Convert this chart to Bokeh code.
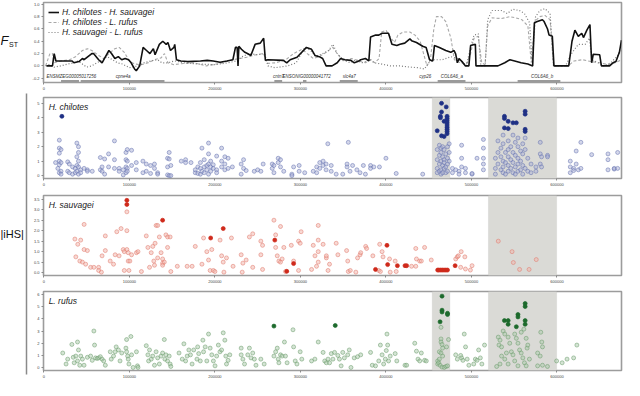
from bokeh.plotting import figure
from bokeh.layouts import row, column
from bokeh.models import (Range1d, FixedTicker, PrintfTickFormatter, NumeralTickFormatter,
                          BoxAnnotation, Legend, LegendItem)
from bokeh.embed import file_html
from bokeh.resources import INLINE
from bokeh.core.properties import value

FONT = "Liberation Sans"

# ---------------- FST data (position kb, FST) ----------------
fst_chil_sauv = [(3,0.0),(10,0.0),(12,0.2),(14,0.08),(33,0.08),(35,0.05),(41,0.07),(45,0.12),(47,0.1),(56,0.2),(58,0.2),(64,0.1),(68,0.05),(72,0.15),(76,0.25),(79,0.2),(83,0.12),(87,0.15),(91,0.1),(95,0.12),(99,0.1),(102,0.05),(106,-0.05),(108,-0.08),(112,0.0),(116,0.3),(120,0.25),(124,0.2),(128,0.28),(130,0.18),(135,0.35),(139,0.4),(143,0.35),(145,0.38),(148,0.25),(152,0.3),(153,0.35),(155,0.1),(160,0.08),(168,0.07),(183,0.08),(191,0.09),(198,0.08),(206,0.06),(214,0.08),(221,0.1),(224,0.3),(226,0.3),(227,0.0),(228,0.32),(231,0.27),(235,0.22),(238,0.2),(242,0.17),(247,0.35),(253,0.37),(257,0.45),(259,0.09),(262,0.1),(280,0.09),(284,0.05),(288,0.1),(296,0.14),(307,0.3),(313,0.27),(317,0.17),(322,0.15),(326,0.12),(330,0.0),(337,0.0),(343,0.05),(347,0.12),(352,0.1),(359,0.09),(363,0.05),(367,0.07),(370.5,0.1),(376,0.12),(380,0.08),(382,0.47),(388,0.5),(391.6,0.5),(395.5,0.53),(403,0.53),(407,0.35),(412.7,0.33),(416.5,0.35),(422,0.37),(428,0.44),(430,0.41),(435.7,0.38),(443,0.32),(447,0.3),(451,0.1),(454.8,0.08),(456.7,0.33),(462.5,0.3),(470,0.25),(475.8,0.22),(479.7,0.25),(481.6,0.19),(483.5,0.05),(485.5,0.12),(489,0.07),(493,0.0),(497,0.0),(499,0.33),(504.6,0.35),(505.3,0.0),(531,0.0),(539,0.05),(545,0.1),(550.6,0.08),(558,0.05),(566,0.03),(571.6,0.0),(573.6,0.7),(577,0.72),(583,0.75),(585,0.72),(589,0.6),(590.8,0.5),(594.6,0.48),(596.5,0.0),(613.8,0.0),(617.6,0.4),(621,0.58),(625,0.48),(629,0.53),(631,0.46),(635,0.58),(638.6,0.67),(640.6,0.05),(642.5,0.19),(650,0.18),(652,0.0),(661.6,0.0),(665.5,0.05),(669,0.07),(673,0.22),(675.5,0.42)]

fst_chil_rufus = [(2,0.0),(7,0.2),(10,0.2),(12,0.05),(20,0.08),(30,0.1),(37,0.15),(45,0.25),(51,0.28),(56,0.25),(64,0.17),(70,0.12),(76,0.2),(83,0.28),(88,0.3),(94,0.22),(100,0.08),(106,0.03),(114,0.02),(122,0.05),(129,0.1),(137,0.13),(141,0.2),(145,0.05),(152,0.02),(164,0.04),(175,0.05),(190,0.0),(206,0.04),(213,0.07),(221,0.1),(229,0.12),(237,0.14),(248,0.18),(257,0.2),(261,0.04),(271,0.05),(283,0.1),(292,0.2),(302,0.27),(308,0.2),(315,0.12),(322,0.15),(330,0.22),(338,0.3),(343,0.2),(350,0.08),(360,0.12),(368,0.08),(376,0.05),(382,0.1),(387,0.05),(392,0.12),(395,0.55),(400,0.58),(406,0.45),(410,0.38),(414,0.5),(420,0.55),(428,0.55),(434,0.5),(440,0.4),(444,0.2),(448,0.0),(452,0.1),(456,0.6),(459,0.8),(465,0.8),(470,0.72),(476,0.45),(480,0.1),(487,0.05),(494,0.02),(499,0.2),(503,0.45),(508,0.48),(512,0.05),(516,0.02),(519,0.65),(524,0.78),(535,0.77),(545,0.8),(552,0.78),(559,0.75),(566,0.65),(570,0.05),(574,0.72),(580,0.8),(586,0.82),(592,0.75),(596,0.0),(613,0.0),(620,0.08),(630,0.1),(640,0.07),(650,0.05),(660,0.02),(668,0.05),(675.5,0.1)]

fst_sauv_rufus = [(2,0.0),(6,0.02),(12,-0.02),(20,0.0),(28,0.03),(35,0.05),(40,0.08),(46,0.02),(50,-0.02),(56,0.0),(62,0.05),(68,0.1),(74,0.15),(80,0.1),(86,0.05),(92,0.03),(100,-0.03),(110,0.0),(117,0.05),(125,0.08),(133,0.1),(138,0.05),(145,0.05),(153,0.08),(164,0.05),(180,0.03),(200,0.02),(215,0.05),(225,0.08),(232,0.15),(240,0.2),(250,0.18),(258,0.2),(262,0.0),(270,-0.03),(285,0.0),(295,0.05),(305,0.3),(312,0.25),(318,0.15),(326,0.2),(333,0.25),(338,0.35),(343,0.2),(350,0.1),(358,0.05),(365,0.1),(372,0.05),(378,0.08),(382,0.1),(386,0.05),(395,0.03),(405,0.0),(416,0.0),(428,-0.02),(438,-0.03),(445,-0.05),(450,0.05),(456,0.1),(466,0.1),(476,0.15),(484,0.12),(490,0.05),(494,0.0),(499,0.3),(503,0.5),(508,0.52),(511,0.0),(516,0.0),(519,0.75),(524,0.9),(535,0.9),(542,0.85),(548,0.92),(556,0.9),(562,0.85),(568,0.7),(571,0.05),(575,0.8),(580,0.9),(586,0.93),(592,0.85),(596,0.0),(610,0.0),(617,0.2),(625,0.35),(633,0.35),(638,0.45),(641,0.1),(648,0.05),(655,0.0),(663,0.05),(670,0.15),(675.5,0.25)]

fst_series_labels = ["H. chilotes - H. sauvagei", "H. chilotes - L. rufus", "H. sauvagei - L. rufus"]

# genes
gene_names = ["ENSMZEG00005017256", "cpne4a", "cntn7", "ENSONIG00000041772", "slc4a7", "cyp26", "COL6A6_a", "COL6A6_b"]
gene_label_kb = [3, 84, 268, 279, 349.5, 439, 464, 569.7]
gene_bar_start_kb = [20, 43, 269.5, 303, 346, 460.5, 554]
gene_bar_end_kb = [41, 141, 278.6, 307, 367, 493, 604]

# highlighted regions (kb)
regions_chilotes = [(454.2, 474.7), (519.9, 599.6)]
regions_sauvagei = [(519.9, 599.6)]
regions_rufus = [(454.2, 474.7), (519.9, 599.6)]

# ---------------- |iHS| data: (position kb, values...) ----------------
chilotes_light = [(13.6,0.9),(16.3,0.5),(18,2.45,1.9,1.55,1.0,0.75,0.2),(20,1.8,0.9,0.3,0.1),(27.8,0.95,0.3),(29.7,0.8,0.2),(33.5,0.6,0.1),(36.6,0.5,0.2),(38.5,2.25,1.3,0.7,0.3),(40.4,2.0,1.6,1.0,0.6,0.1),(43,0.4,0.2),(47,0.5),(50.8,0.4,0.3),(56.5,0.3),(66,1.25,0.4),(68,0.6,0.3),(71,1.15,0.1),(75.6,1.5,0.6),(82.5,2.4,1.1,0.5),(88,0.5,0.3),(92.8,0.4,0.05),(96,1.6,1.1,0.6,0.2),(97.5,1.8,1.0,0.5,0.3),(102.5,1.75,0.7),(108,0.9,0.4),(115.8,1.0,0.2),(119.7,0.8,0.3),(124.7,0.7,0.15),(129.3,0.8,0.5),(133,0.2,0.1),(144.6,1.2,0.6,0.05),(146.5,1.6,1.15,0.0),(148.4,0.7,0.0),(160.6,1.0),(165.7,1.1,0.9),(172,0.9),(177,0.2,0.4),(180,0.6,0.15),(183,0.9,0.5,0.1),(184.8,1.9,0.3),(187.5,1.1,0.6,0.2),(190.5,0.7,0.4),(192.5,2.25,1.5,0.8,0.1),(195,1.0,0.6,0.3),(198,0.75,0.5),(202,1.35,0.4,0.2),(207.8,1.9,1.0,0.6),(211.6,1.3,0.8,0.4),(215.4,1.2,0.5),(220.4,0.6),(230.7,0.8,0.1),(233.5,1.1,0.5),(236.5,0.35),(246,0.3),(250,0.4),(253.7,0.3),(256.4,0.8),(267,0.8,0.5),(269,0.7,0.2),(274,1.2,0.9),(276.7,1.1,0.6),(280.5,0.3),(290,0.1,0.0),(292,0.6),(298.5,0.7,0.3),(305,0.2),(315,0.3),(319,0.6,0.2),(322.6,0.9,0.5),(326.5,0.7,1.0),(330,0.8,0.4),(332,2.2),(336,0.7,0.3),(341.8,0.1),(349.5,0.1),(354.5,0.6,0.8),(356,2.3),(358,0.3),(361,0.7),(366,0.4),(369.7,0.2),(373.6,0.7),(376,0.1),(382,0.7,0.5),(385.8,0.6),(392.4,0.6),(400,1.2),(412,0.15),(443,0.1),(460,1.8,1.1,0.5,0.2),(462.5,2.1,1.4,0.8,0.3),(464.4,1.9,1.6,1.0,0.4,0.1),(466.3,2.0,1.3,0.7,0.2),(468,1.8,1.1,0.9,0.5),(470,1.5,0.6,0.2),(472,2.0,1.2,0.8,0.3),(474,2.2,1.6,1.0),(477.8,0.5,0.2),(481.6,0.4),(485.5,0.3,0.1),(488.5,2.1,1.2,0.6),(493,0.2,0.5),(500.7,0.1,0.15),(506.5,1.2),(514,2.5,1.9,1.2,0.8,0.4),(528,1.2,0.5,0.1),(531,2.4,1.6,0.8),(534.5,1.9,1.3,0.4),(537,2.8,2.2,1.0,0.6,0.2),(539.8,1.6,0.9,0.1),(543,2.4,1.8,1.3,0.7,0.3),(546,2.0,1.1,0.5),(548.6,2.8,1.6,0.9,0.2),(551.3,2.3,1.4,0.6,0.1),(554.4,2.6,2.0,1.2,0.8,0.3),(557.5,1.7,1.0,0.4),(560,2.2,1.5,0.7,0.1),(562.8,2.6,1.8,0.5),(565.9,1.2,0.3),(569.7,0.8,0.2),(575.4,0.6,0.3),(580.5,2.3,1.5,0.8),(582,1.3,0.6),(589,1.4,1.3),(615.6,1.0,0.6,0.2),(619.5,0.5,0.35),(622.5,1.7,0.8),(625,0.4),(628,2.3,0.5),(640.6,1.45),(659.7,1.5,1.1,0.4),(667,0.45,0.5),(671,1.6,0.5)]
chilotes_dark = [(21,4.1),(460,3.1),(463.7,4.1,4.0),(465,5.0,4.4,2.75),(468,3.75,2.7),(470.5,4.75),(471.5,4.1,3.95,3.8,3.65,3.5,3.35,3.2,3.05,2.9),(538.6,4.1,3.95,3.3),(543,3.75,3.25),(548.6,3.65),(552.5,3.65),(562.8,4.45,4.25,3.2,3.05)]

sauvagei_light = [(36.2,1.6),(37.3,0.75),(39.6,1.35),(42,0.55),(43,1.55),(45,0.5),(47,2.3,1.1),(48.8,0.4),(50.8,1.05),(54.6,0.25),(58.4,0.25),(64,0.25,0.1),(67.2,0.02),(68,0.8),(71.8,1.75,1.05),(77.5,0.55),(81.4,0.4),(83.3,0.85),(85.2,1.95),(87.9,0.8),(90.2,2.1),(92.8,1.1),(94,1.0,0.1),(97,2.9,2.0,1.1),(98.6,0.95,0.55),(99.4,0.1),(100.5,0.55),(102.5,0.85),(108.2,0.95),(110,1.0),(114,0.05),(119.7,1.75),(121.6,1.2),(123.5,0.25),(125.5,0.95),(127.3,1.25),(128.5,0.55),(129.3,0.35),(130,1.4),(131.2,2.25),(133,2.25,0.7),(135,1.7),(137,0.95),(138.8,0.65,0.45,0.35),(140.8,0.5),(142.7,1.8),(144.6,1.7,1.2),(147.6,1.7),(148.4,0.05),(156,0.3),(167.5,0.3),(173.3,0.3),(177,1.25),(184.8,0.4),(186.7,1.65),(190.5,1.0),(192.5,0.6),(194.4,0.1),(196.3,1.1),(198.2,0.1),(200,0.05),(206,1.55),(207.8,0.8),(209.7,0.5),(210.5,0.02),(213.5,0.7),(219.3,1.65),(221.2,0.3),(230.7,0.85),(231.9,0.02),(232.7,0.45),(236.5,0.6),(240.3,1.7),(244.2,1.85,0.25),(253.7,1.5,0.85),(255.7,1.3,0.15),(269,2.5),(271,1.8,1.2),(272.9,0.8),(274.8,0.55),(276.7,2.2,0.5),(278.6,0.65),(280.6,1.2),(282.5,0.05),(289.3,1.3),(292,0.55),(297.8,1.5,0.1),(299.7,1.4),(300.8,1.95),(313,0.15),(315,1.3),(317,0.8),(318.8,0.3),(320.8,2.25,1.55,1.0,0.5),(326.5,1.35),(330.3,0.7,0.8),(332.3,0.1),(334,0.4),(341.8,1.4),(343.8,0.85),(354,1.05),(355.3,0.55),(356,0.05),(358.3,0.1),(364.8,0.02),(366.8,0.7),(369.7,0.85),(370.5,0.95),(376.3,1.25),(377.4,1.15),(384.7,0.8),(391.6,0.1),(392.7,1.35),(393.5,0.05),(395.5,1.0),(396.6,0.75),(404.2,0.65),(405,0.02),(410.8,0.55),(412,0.05),(430,0.3),(434.9,1.15,0.3),(435.7,0.65),(439.5,0.55),(441.4,0.55),(445.2,1.2),(453,0.6),(481.6,0.65),(483.5,0.75),(484.7,0.8),(487.4,0.25),(488,1.0),(492.3,0.75),(493,0.17),(498.8,0.12),(500.7,0.33),(531.4,1.5),(547.5,1.0),(549,0.48),(556.3,0.15),(567.4,0.15),(575.8,0.62)]
sauvagei_dark = [(97,3.45,3.25),(138.8,2.5),(195,1.65),(209.7,2.1),(270,1.55),(284,0.06),(292,0.43),(387.8,0.15),(401.2,1.3),(402,0.38),(413.4,0.33),(422.3,0.33),(424.2,0.33),(460.5,0.12),(462,0.12),(464,0.12),(466,0.12),(468,0.12),(470,0.12),(472,0.12),(480.9,0.33)]

rufus_light = [(22,1.2),(25.9,0.3),(27.8,0.7),(32.7,1.9),(34.3,0.85),(35.4,0.4),(37.3,0.95),(39.3,2.1,0.55),(40.4,1.45),(41.9,0.2),(43.1,0.95),(45,0.7),(46.9,0.2),(50.8,0.85),(54.6,0.95),(56.5,0.6),(58.4,3.0),(59.2,1.85),(60.3,0.8),(62.3,0.75),(64.1,0.8),(66,0.9),(68,0.7),(69.9,0.55),(71.8,0.2),(77.6,1.3),(78.7,0.7),(81.4,0.95),(83.3,1.3),(84.5,1.7),(87.1,1.45),(89,0.55),(91,1.2),(95.9,1.6),(96.7,2.3,1.3),(97.9,0.95),(98.6,0.7),(99.4,0.3),(101.7,2.55),(102.5,1.05),(104.3,0.02),(108.2,1.3),(109.4,0.15),(110,0.02),(119.7,1.8),(121.6,1.05),(122.4,0.55),(123.5,1.45),(125.5,0.7),(127.3,0.95),(129.3,0.2),(131.2,1.3),(133,0.8),(135,0.3),(137,0.95),(138.8,1.2),(140.8,2.3),(141.5,0.7),(142.7,1.05),(144.6,0.55),(146.5,0.95),(147.6,0.3),(148.4,0.1),(158,1.2),(161.8,0.7),(163.7,1.95),(165.7,0.55),(167.5,0.95),(169.5,1.45),(171.4,1.05),(173.3,0.3),(175.2,1.45),(179,0.7),(179.8,1.7),(181,1.15),(182.9,0.55),(185.9,2.25),(186.7,1.3),(188.6,1.7),(190.5,0.55),(192.5,2.75),(194.4,1.6),(196.3,1.05),(198.2,0.55),(200.1,0.15),(202,0.95),(204,1.85),(205.9,1.3),(207.8,1.45),(209.7,2.85),(211.6,2.25),(212.7,0.95),(213.5,0.3),(215.4,0.6),(217.4,1.05),(230.7,1.6,1.05),(232.7,0.7),(234.6,0.3),(238.4,1.05),(240.3,1.6),(242.2,0.8),(244.2,1.2),(246.1,0.7),(248,0.2),(253.7,0.7),(257.6,0.3),(269,0.95),(271,1.3),(272.9,1.6),(274,0.7),(274.8,0.4),(276.7,1.05),(278.6,0.95),(281.3,2.1),(282.5,0.95),(284.4,0.4),(291.3,3.1),(292,1.7),(293.9,0.55),(295.9,0.3),(299.7,1.3),(301.6,0.7),(313,0.55),(316.9,0.7),(320.8,2.1),(326.5,1.25),(328.4,0.55),(330.3,0.4),(332.3,0.7),(334.1,0.4),(336.1,1.15),(338,0.7),(339.9,1.25),(343.8,1.0),(345.6,0.7),(347.6,0.15),(349.5,1.25),(351.4,0.8),(355.3,1.05),(357.1,1.45),(359.1,0.02),(362.9,0.8),(366.8,0.9),(370.5,1.05),(382,1.25),(384,0.2),(387.8,0.15),(391.6,0.55),(393.5,1.85),(395.5,1.05),(397.3,0.3),(399.3,0.7),(400.4,1.4),(401.2,2.75),(402,1.85),(403.1,0.55),(405,0.95),(410.8,1.15),(412.7,0.55),(422.3,0.2),(424.2,0.2),(433.7,2.0),(435.7,1.35),(437.5,0.7),(439.5,0.55),(441.4,1.2),(445.2,0.6),(447.2,0.55),(460.5,0.55,0.3),(461.7,0.4),(462.5,0.7,1.3),(463.3,0.2),(464.4,2.35,2.1,1.2,3.3),(465.6,1.9,0.05),(466.3,1.6,0.95),(468.2,0.02),(470.2,0.1),(470.9,1.7),(472,0.15),(473.2,2.3),(481.6,1.05),(483.5,0.7),(487.4,1.0),(488.5,0.8),(490,0.6),(491.6,2.75),(493.1,1.7),(495,0.7),(497,0.2),(502.7,0.3),(504.6,0.7),(506.5,0.6),(508.4,1.45),(510.4,0.8),(512.2,0.3),(515.3,1.85),(529.5,0.1),(531.4,2.5),(532.2,1.85),(533.4,2.25,0.3),(535.2,1.7,0.95),(537.1,3.0),(539,2.75,0.7),(540.9,1.2),(542.9,2.5,0.3),(544.8,2.0),(546.7,1.3),(548.6,1.05),(550.6,2.75,0.55),(552.5,2.4),(554.4,2.0,0.15),(556.3,1.45),(558.2,2.9,1.2),(560.1,0.8),(561.3,3.15),(562,0.4),(564,2.4,0.15),(565.1,1.6),(565.9,1.85),(567.8,0.7),(577.4,1.2,0.15),(580.4,0.95),(581.1,2.9),(582.3,2.1),(583.1,1.7,0.2),(588.9,0.1),(599.6,0.55),(606.1,0.4),(611.8,0.7),(619.5,0.8),(623.3,1.85)]
rufus_dark = [(269,3.4),(340.7,3.45),(463.3,3.75),(465.6,5.85,4.7,4.55),(472,4.45,4.35),(538.6,3.85),(542.9,3.85,3.55),(552.5,3.35),(554.4,4.35,4.15),(562.8,5.25,5.0,3.85,3.55)]

x_tick_values = [0, 100000, 200000, 300000, 400000, 500000, 600000]
fst_ticks = [-0.2, 0.0, 0.2, 0.4, 0.6, 0.8, 1.0]
chilotes_ticks = [0, 1, 2, 3, 4, 5]
sauvagei_ticks = [0.0, 0.5, 1.0, 1.5, 2.0, 2.5, 3.0, 3.5]
rufus_ticks = [0, 1, 2, 3, 4, 5, 6]

# ---------------- helpers ----------------
def flatten(groups):
    xs, ys = [], []
    for g in groups:
        for v in g[1:]:
            xs.append(g[0] * 1000)
            ys.append(v)
    return xs, ys

def unzip(pairs):
    return [p[0] * 1000 for p in pairs], [p[1] for p in pairs]

LW = 29
PW = 624 - LW
X_RANGE = (-500, 675500)

def make_panel(height, top, bottom, yr, ticks, fmt):
    p = figure(width=PW, height=height, x_range=Range1d(*X_RANGE), y_range=Range1d(*yr),
               output_backend="svg", toolbar_location=None,
               min_border_left=12, min_border_right=3, min_border_top=top, min_border_bottom=bottom)
    p.xgrid.visible = False
    p.ygrid.visible = False
    p.outline_line_color = "#9c9c9c"
    p.outline_line_width = 1.6
    p.axis.axis_line_color = None
    p.axis.major_tick_line_color = "#8a8a8a"
    p.axis.major_tick_out = 2
    p.axis.major_tick_in = 0
    p.axis.minor_tick_line_color = None
    p.axis.major_label_text_font_size = "4px"
    p.axis.major_label_text_color = "#444444"
    p.axis.major_label_text_font = FONT
    p.axis.major_label_standoff = 2
    p.xaxis.ticker = FixedTicker(ticks=x_tick_values)
    p.xaxis.formatter = NumeralTickFormatter(format="0")
    p.yaxis.ticker = FixedTicker(ticks=ticks)
    p.yaxis.formatter = PrintfTickFormatter(format=fmt)
    return p

def shade(p, regions):
    for a, b in regions:
        p.add_layout(BoxAnnotation(left=a * 1000, right=b * 1000, fill_color="#dadad6", fill_alpha=1.0,
                                   line_color="#c4c4c0", line_width=1, level="underlay"))

def points(p, light, dark, lfill, lline, dcol):
    lx, ly = flatten(light)
    dx, dy = flatten(dark)
    p.scatter(lx, ly, marker="circle", size=4.0, fill_color=lfill, fill_alpha=0.5,
              line_color=lline, line_alpha=0.75, line_width=0.7)
    p.scatter(dx, dy, marker="circle", size=4.0, fill_color=dcol, fill_alpha=1.0,
              line_color=dcol, line_width=0.7)

def title(p, txt, y):
    p.text(x=[5500], y=[y], text=[txt], text_font=value(FONT), text_font_size="8.5px",
           text_font_style="italic", text_baseline="top", text_color="#222222")

# ---------------- FST panel ----------------
pf = make_panel(95, 2, 13, (-0.27, 1.03), fst_ticks, "%.1f")
x1, y1 = unzip(fst_chil_sauv)
x2, y2 = unzip(fst_chil_rufus)
x3, y3 = unzip(fst_sauv_rufus)
r2 = pf.line(x2, y2, line_color="#a8a8a8", line_width=1.1, line_dash="3 2")
r3 = pf.line(x3, y3, line_color="#7a7a7a", line_width=1.2, line_dash="1 2")
r1 = pf.line(x1, y1, line_color="#111111", line_width=1.6)
leg = Legend(items=[LegendItem(label=fst_series_labels[0], renderers=[r1]),
                    LegendItem(label=fst_series_labels[1], renderers=[r2]),
                    LegendItem(label=fst_series_labels[2], renderers=[r3])],
             location="top_left")
leg.label_text_font = FONT
leg.label_text_font_size = "8.5px"
leg.label_text_font_style = "italic"
leg.label_text_color = "#222222"
leg.glyph_width = 11
leg.glyph_height = 10
leg.label_height = 10
leg.spacing = 0
leg.padding = 2
leg.margin = 3
leg.label_standoff = 3
leg.border_line_alpha = 0
leg.background_fill_alpha = 0
pf.add_layout(leg)

gx0 = [s * 1000 for s in gene_bar_start_kb]
gx1 = [e * 1000 for e in gene_bar_end_kb]
pf.segment(x0=gx0, y0=[-0.245] * len(gx0), x1=gx1, y1=[-0.245] * len(gx1),
           line_color="#9a9a9a", line_width=2)
pf.text(x=[g * 1000 for g in gene_label_kb], y=[-0.18] * len(gene_names), text=gene_names,
        text_font=value(FONT), text_font_size="4.5px", text_font_style="italic",
        text_baseline="middle", text_color="#333333")

# ---------------- iHS panels ----------------
pc = make_panel(97, 2, 14, (-0.2, 5.4), chilotes_ticks, "%d")
shade(pc, regions_chilotes)
points(pc, chilotes_light, chilotes_dark, "#a9b0d6", "#6673b0", "#1f3185")
title(pc, "H. chilotes", 5.12)

ps = make_panel(97, 3, 14, (-0.14, 3.68), sauvagei_ticks, "%.1f")
shade(ps, regions_sauvagei)
points(ps, sauvagei_light, sauvagei_dark, "#f2b3aa", "#e0796c", "#cf2a1b")
title(ps, "H. sauvagei", 3.46)

pr = make_panel(91, 2, 9, (-0.23, 6.23), rufus_ticks, "%d")
shade(pr, regions_rufus)
points(pr, rufus_light, rufus_dark, "#a9c9a9", "#6b9c6b", "#1d6a2c")
title(pr, "L. rufus", 5.85)

# ---------------- left labels ----------------
lf = figure(width=LW, height=380, x_range=Range1d(0, LW), y_range=Range1d(380, 0),
            output_backend="svg", toolbar_location=None, min_border=0,
            x_axis_location=None, y_axis_location=None)
lf.xgrid.visible = False
lf.ygrid.visible = False
lf.outline_line_color = None
lf.text(x=[0], y=[40], text=["F"], text_font=value(FONT), text_font_size="13px",
        text_font_style="italic", text_baseline="middle", text_color="#111111")
lf.text(x=[8.5], y=[44], text=["ST"], text_font=value(FONT), text_font_size="7px",
        text_baseline="middle", text_color="#111111")
lf.text(x=[0], y=[233], text=["|iHS|"], text_font=value(FONT), text_font_size="11px",
        text_baseline="middle", text_color="#111111")
lf.segment(x0=[26], y0=[93], x1=[26], y1=[374], line_color="#8a8a8a", line_width=1.5)

layout = row(lf, column(pf, pc, ps, pr))
open("out.html", "w").write(file_html(layout, INLINE))
